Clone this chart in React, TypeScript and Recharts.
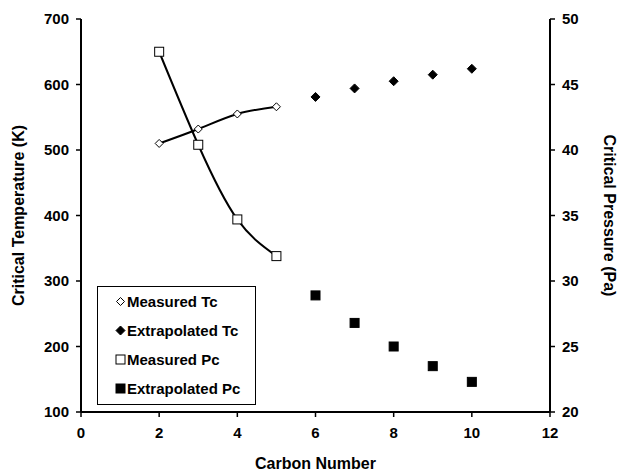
import React from 'react';
import {
  ComposedChart,
  Scatter,
  Line,
  XAxis,
  YAxis,
  Legend,
  Label,
} from 'recharts';

// Carbon numbers and read-off values
const measuredCarbon = [2, 3, 4, 5];
const extrapolatedCarbon = [6, 7, 8, 9, 10];
const measuredTc = [510, 532, 555, 566];
const extrapolatedTc = [581, 594, 605, 615, 624];
const measuredPc = [47.5, 40.4, 34.7, 31.9];
const extrapolatedPc = [28.9, 26.8, 25.0, 23.5, 22.3];

const xTicks = [0, 2, 4, 6, 8, 10, 12];
const tcTicks = [100, 200, 300, 400, 500, 600, 700];
const pcTicks = [20, 25, 30, 35, 40, 45, 50];

const FONT = '"Liberation Sans", Arial, sans-serif';

const tcMeasuredData = measuredCarbon.map((c, i) => ({ c, tc: measuredTc[i] }));
const tcExtrapData = extrapolatedCarbon.map((c, i) => ({ c, tc: extrapolatedTc[i] }));
const pcMeasuredData = measuredCarbon.map((c, i) => ({ c, pc: measuredPc[i] }));
const pcExtrapData = extrapolatedCarbon.map((c, i) => ({ c, pc: extrapolatedPc[i] }));

type Kind = 'openDiamond' | 'diamond' | 'openSquare' | 'square';

function Marker({ kind, cx, cy }: { kind: Kind; cx: number; cy: number }) {
  if (kind === 'openDiamond' || kind === 'diamond') {
    const r = kind === 'diamond' ? 4.5 : 4;
    const pts = `${cx},${cy - r} ${cx + r},${cy} ${cx},${cy + r} ${cx - r},${cy}`;
    return (
      <polygon
        points={pts}
        fill={kind === 'diamond' ? '#000' : '#fff'}
        stroke="#000"
        strokeWidth={1}
      />
    );
  }
  const s = 4.5;
  return (
    <rect
      x={cx - s}
      y={cy - s}
      width={s * 2}
      height={s * 2}
      fill={kind === 'square' ? '#000' : '#fff'}
      stroke="#000"
      strokeWidth={1}
    />
  );
}

const shapeOf = (kind: Kind) => (props: any) => <Marker kind={kind} cx={props.cx} cy={props.cy} />;

const legendItems: { name: string; kind: Kind }[] = [
  { name: 'Measured Tc', kind: 'openDiamond' },
  { name: 'Extrapolated Tc', kind: 'diamond' },
  { name: 'Measured Pc', kind: 'openSquare' },
  { name: 'Extrapolated Pc', kind: 'square' },
];

function LegendBox() {
  return (
    <div
      style={{
        border: '1px solid #000',
        background: '#fff',
        width: 157,
        height: 117,
        boxSizing: 'content-box',
        fontFamily: FONT,
        fontWeight: 'bold',
        fontSize: 15,
        color: '#000',
      }}
    >
      {legendItems.map((it, i) => (
        <div
          key={it.name}
          style={{ position: 'absolute', left: 18, top: 6 + i * 29, height: 18, display: 'flex', alignItems: 'center' }}
        >
          <svg width={11} height={11} style={{ marginRight: 1 }}>
            <Marker kind={it.kind} cx={5.5} cy={5.5} />
          </svg>
          <span>{it.name}</span>
        </div>
      ))}
    </div>
  );
}

const tickStyle = { fontSize: 15, fontWeight: 'bold', fill: '#000', fontFamily: FONT };
const labelStyle = { fontSize: 16, fontWeight: 'bold', fill: '#000', fontFamily: FONT, textAnchor: 'middle' as const };

export default function App() {
  return (
    <div style={{ position: 'absolute', left: 0, top: 0, background: '#fff' }}>
      <ComposedChart width={619} height={473} margin={{ top: 19, right: 0, bottom: 0, left: 0 }}>
        <XAxis
          type="number"
          dataKey="c"
          domain={[0, 12]}
          ticks={xTicks}
          height={61}
          axisLine={{ stroke: '#000', strokeWidth: 2 }}
          tickLine={{ stroke: '#000', strokeWidth: 1.5 }}
          tickSize={5}
          tickMargin={10}
          tick={tickStyle}
        >
          <Label value="Carbon Number" position="insideBottom" offset={4} style={labelStyle} />
        </XAxis>
        <YAxis
          yAxisId="left"
          type="number"
          dataKey="tc"
          domain={[100, 700]}
          ticks={tcTicks}
          width={81}
          axisLine={{ stroke: '#000', strokeWidth: 2 }}
          tickLine={{ stroke: '#000', strokeWidth: 1.5 }}
          tickSize={5}
          tickMargin={7}
          tick={tickStyle}
        >
          <Label value="Critical Temperature (K)" angle={-90} position="insideLeft" offset={18} style={labelStyle} />
        </YAxis>
        <YAxis
          yAxisId="right"
          orientation="right"
          type="number"
          dataKey="pc"
          domain={[20, 50]}
          ticks={pcTicks}
          width={69}
          axisLine={{ stroke: '#000', strokeWidth: 2 }}
          tickLine={{ stroke: '#000', strokeWidth: 1.5 }}
          tickSize={5}
          tickMargin={7}
          tick={tickStyle}
        >
          <Label value="Critical Pressure (Pa)" angle={90} position="insideRight" offset={9} style={labelStyle} />
        </YAxis>

        <Line
          yAxisId="left"
          data={tcMeasuredData}
          dataKey="tc"
          type="natural"
          stroke="#000"
          strokeWidth={2}
          dot={false}
          activeDot={false}
          legendType="none"
          isAnimationActive={false}
        />
        <Line
          yAxisId="right"
          data={pcMeasuredData}
          dataKey="pc"
          type="natural"
          stroke="#000"
          strokeWidth={2}
          dot={false}
          activeDot={false}
          legendType="none"
          isAnimationActive={false}
        />

        <Scatter yAxisId="left" name="Measured Tc" data={tcMeasuredData} dataKey="tc" shape={shapeOf('openDiamond')} isAnimationActive={false} />
        <Scatter yAxisId="left" name="Extrapolated Tc" data={tcExtrapData} dataKey="tc" shape={shapeOf('diamond')} isAnimationActive={false} />
        <Scatter yAxisId="right" name="Measured Pc" data={pcMeasuredData} dataKey="pc" shape={shapeOf('openSquare')} isAnimationActive={false} />
        <Scatter yAxisId="right" name="Extrapolated Pc" data={pcExtrapData} dataKey="pc" shape={shapeOf('square')} isAnimationActive={false} />

        <Legend
          layout="vertical"
          verticalAlign="middle"
          align="center"
          content={() => <LegendBox />}
          wrapperStyle={{ position: 'absolute', left: 97, top: 286, width: 159, height: 119 }}
        />
      </ComposedChart>
    </div>
  );
}
